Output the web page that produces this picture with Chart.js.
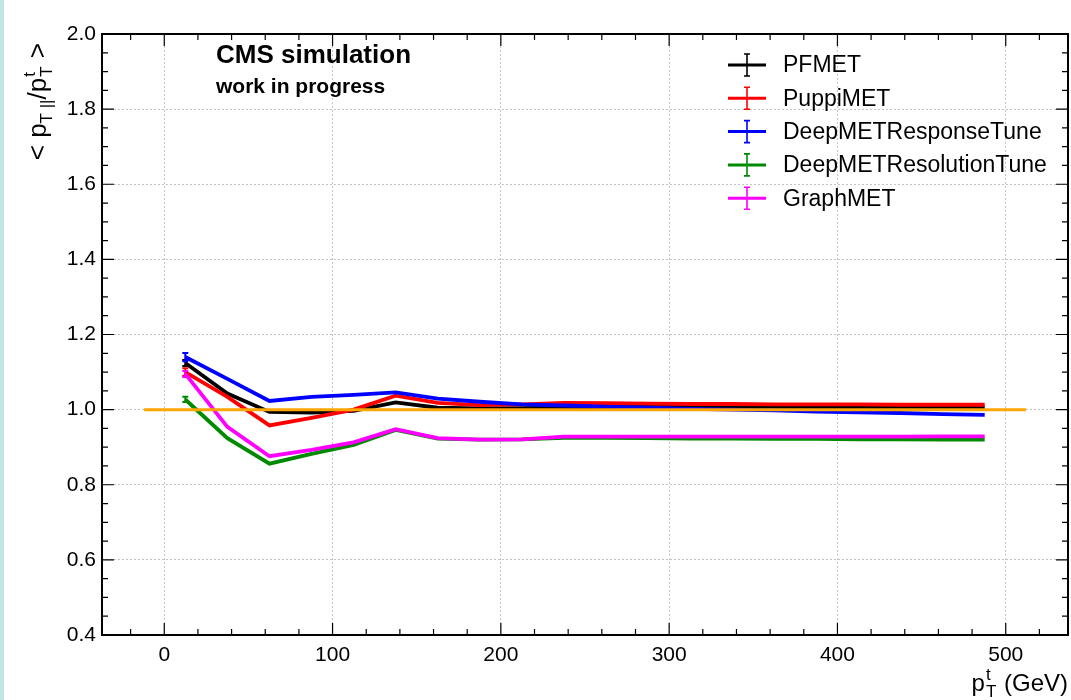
<!DOCTYPE html>
<html>
<head>
<meta charset="utf-8">
<script src="https://cdn.jsdelivr.net/npm/chart.js@4.4.1/dist/chart.umd.min.js"></script>
<style>
html, body { margin: 0; padding: 0; background: #fff; }
#wrap { position: relative; width: 1071px; height: 700px; overflow: hidden; }
#strip { position: absolute; left: 0; top: 0; width: 4px; height: 700px; background: #c2e6e6; }
canvas { position: absolute; left: 0; top: 0; }
</style>
</head>
<body>
<div id="wrap">
    <canvas id="response-chart" width="1071" height="700"></canvas>
    <div id="strip"></div>
</div>
<script>
// bin centres (GeV)
const ptBins = [12.5, 37.5, 62.5, 87.5, 112.5, 137.5, 162.5, 187.5, 212.5, 237.5,
                262.5, 287.5, 312.5, 337.5, 362.5, 387.5, 412.5, 437.5, 462.5, 487.5];

// response <p_T||/p_T^t> per bin
const pfMET          = [1.124, 1.043, 0.994, 0.992, 0.997, 1.019, 1.005, 1.003, 1.004, 1.006,
                        1.007, 1.007, 1.007, 1.007, 1.006, 1.006, 1.006, 1.006, 1.006, 1.006];
const puppiMET       = [1.100, 1.034, 0.958, 0.978, 1.000, 1.037, 1.018, 1.012, 1.014, 1.018,
                        1.017, 1.016, 1.015, 1.015, 1.014, 1.014, 1.014, 1.013, 1.013, 1.013];
const deepResponse   = [1.140, 1.082, 1.023, 1.034, 1.039, 1.046, 1.029, 1.021, 1.014, 1.011,
                        1.008, 1.005, 1.002, 1.000, 0.998, 0.995, 0.993, 0.991, 0.988, 0.986];
const deepResolution = [1.027, 0.924, 0.856, 0.882, 0.906, 0.946, 0.923, 0.920, 0.921, 0.925,
                        0.925, 0.924, 0.923, 0.923, 0.922, 0.922, 0.921, 0.921, 0.920, 0.920];
const graphMET       = [1.095, 0.954, 0.876, 0.893, 0.913, 0.948, 0.924, 0.920, 0.921, 0.928,
                        0.928, 0.928, 0.928, 0.928, 0.928, 0.928, 0.928, 0.928, 0.929, 0.929];

// statistical errors
const pfErr    = [0.008, 0.003, 0.001, 0.001, 0.001, 0.001, 0.001, 0.001, 0.001, 0.001,
                  0.001, 0.001, 0.001, 0.001, 0.001, 0.001, 0.001, 0.001, 0.001, 0.001];
const puppiErr = [0.010, 0.003, 0.001, 0.001, 0.001, 0.001, 0.001, 0.001, 0.001, 0.001,
                  0.001, 0.001, 0.001, 0.001, 0.001, 0.001, 0.001, 0.001, 0.001, 0.001];
const respErr  = [0.011, 0.003, 0.001, 0.001, 0.001, 0.001, 0.001, 0.001, 0.001, 0.001,
                  0.001, 0.001, 0.001, 0.001, 0.001, 0.001, 0.001, 0.001, 0.001, 0.001];
const resoErr  = [0.007, 0.003, 0.001, 0.001, 0.001, 0.001, 0.001, 0.001, 0.001, 0.001,
                  0.001, 0.001, 0.001, 0.001, 0.001, 0.001, 0.001, 0.001, 0.001, 0.001];
const graphErr = [0.008, 0.003, 0.001, 0.001, 0.001, 0.001, 0.001, 0.001, 0.001, 0.001,
                  0.001, 0.001, 0.001, 0.001, 0.001, 0.001, 0.001, 0.001, 0.001, 0.001];

const seriesNames  = ['PFMET', 'PuppiMET', 'DeepMETResponseTune', 'DeepMETResolutionTune', 'GraphMET'];
const seriesColors = ['#000000', '#ff0000', '#0000ff', '#008a00', '#ff00ff'];

// reference line at unity
const refLineX = [-12, 512];
const refLineY = [1.0, 1.0];

const xTicks = [0, 100, 200, 300, 400, 500];
const yTicks = [0.4, 0.6, 0.8, 1.0, 1.2, 1.4, 1.6, 1.8, 2.0];

const FONT = '"Liberation Sans", Arial, Helvetica, sans-serif';

function toPoints(xs, ys) {
    return xs.map((x, i) => ({ x: x, y: ys[i] }));
}

const seriesValues = [pfMET, puppiMET, deepResponse, deepResolution, graphMET];
const seriesErrors = [pfErr, puppiErr, respErr, resoErr, graphErr];

const datasets = seriesNames.map((name, i) => ({
    label: name,
    data: toPoints(ptBins, seriesValues[i]),
    errors: seriesErrors[i],
    borderColor: seriesColors[i],
    backgroundColor: seriesColors[i],
    borderWidth: 3.8,
    pointRadius: 0,
    tension: 0,
    fill: false,
    order: 5 - i
}));
datasets.push({
    label: 'unity',
    data: toPoints(refLineX, refLineY),
    borderColor: '#ffa500',
    borderWidth: 3,
    pointRadius: 0,
    fill: false,
    order: 0
});

// ROOT style frame with inward major/minor ticks
const framePlugin = {
    id: 'frame',
    afterDraw(chart) {
        const { ctx, chartArea: a, scales: { x, y } } = chart;
        ctx.save();
        ctx.strokeStyle = '#000';
        ctx.lineWidth = 1.2;
        ctx.beginPath();
        for (let v = -20; v <= 520; v += 20) {
            const px = x.getPixelForValue(v);
            if (px < a.left || px > a.right) continue;
            const len = v % 100 === 0 ? 12 : 6;
            ctx.moveTo(px, a.bottom); ctx.lineTo(px, a.bottom - len);
            ctx.moveTo(px, a.top); ctx.lineTo(px, a.top + len);
        }
        for (let k = 8; k <= 40; k++) {
            const v = k * 0.05;
            const py = y.getPixelForValue(v);
            const len = k % 4 === 0 ? 12 : 6;
            ctx.moveTo(a.left, py); ctx.lineTo(a.left + len, py);
            ctx.moveTo(a.right, py); ctx.lineTo(a.right - len, py);
        }
        ctx.stroke();
        ctx.lineWidth = 2;
        ctx.strokeRect(a.left, a.top, a.right - a.left, a.bottom - a.top);
        ctx.restore();
    }
};

// vertical error bars with small caps, drawn with their own dataset
const errorBarPlugin = {
    id: 'errorBars',
    afterDatasetDraw(chart, args) {
        const ds = chart.data.datasets[args.index];
        if (!ds.errors) return;
        const { ctx, scales: { y } } = chart;
        ctx.save();
        ctx.strokeStyle = ds.borderColor;
        ctx.lineWidth = 2;
        ds.data.forEach((p, i) => {
            const px = args.meta.data[i].x;
            const yHi = y.getPixelForValue(p.y + ds.errors[i]);
            const yLo = y.getPixelForValue(p.y - ds.errors[i]);
            if (yLo - yHi < 4) return;
            ctx.beginPath();
            ctx.moveTo(px, yHi); ctx.lineTo(px, yLo);
            ctx.moveTo(px - 3, yHi); ctx.lineTo(px + 3, yHi);
            ctx.moveTo(px - 3, yLo); ctx.lineTo(px + 3, yLo);
            ctx.stroke();
        });
        ctx.restore();
    }
};

// texts: CMS label, legend, axis titles
const labelsPlugin = {
    id: 'labels',
    afterDraw(chart) {
        const ctx = chart.ctx;
        ctx.save();
        ctx.fillStyle = '#000';
        ctx.textBaseline = 'alphabetic';
        ctx.textAlign = 'left';
        ctx.font = 'bold 26px ' + FONT;
        ctx.fillText('CMS simulation', 216, 63);
        ctx.font = 'bold 21px ' + FONT;
        ctx.fillText('work in progress', 216, 93);

        // legend
        ctx.font = '23px ' + FONT;
        ctx.textBaseline = 'middle';
        seriesNames.forEach((name, i) => {
            const cy = 65 + i * 33.3;
            ctx.strokeStyle = seriesColors[i];
            ctx.lineWidth = 3;
            ctx.beginPath();
            ctx.moveTo(728, cy); ctx.lineTo(766, cy);
            ctx.stroke();
            ctx.lineWidth = 1.6;
            ctx.beginPath();
            ctx.moveTo(747, cy - 11); ctx.lineTo(747, cy + 11);
            ctx.moveTo(744, cy - 11); ctx.lineTo(750, cy - 11);
            ctx.moveTo(744, cy + 11); ctx.lineTo(750, cy + 11);
            ctx.stroke();
            ctx.fillStyle = '#000';
            ctx.fillText(name, 783, cy + 1);
        });

        ctx.textBaseline = 'alphabetic';
        const big = '26px ' + FONT, small = '17px ' + FONT;

        // y title  < p_T|| / p_T^t >  (rotated, right aligned at top)
        const yParts = [
            { t: '< p', f: big, dy: 0 },
            { t: 'T ||', f: small, dy: 6 },
            { t: '/p', f: big, dy: 0 },
            { stack: ['t', 'T'], f: small },
            { t: ' >', f: big, dy: 0 }
        ];
        const widthOf = parts => parts.reduce((w, p) => {
            ctx.font = p.f;
            return w + (p.stack ? Math.max(...p.stack.map(s => ctx.measureText(s).width)) + 2 : ctx.measureText(p.t).width);
        }, 0);
        const drawParts = parts => {
            let xx = 0;
            parts.forEach(p => {
                ctx.font = p.f;
                if (p.stack) {
                    ctx.fillText(p.stack[0], xx + 1, -11);
                    ctx.fillText(p.stack[1], xx + 1, 6);
                    xx += Math.max(...p.stack.map(s => ctx.measureText(s).width)) + 2;
                } else {
                    ctx.fillText(p.t, xx, p.dy);
                    xx += ctx.measureText(p.t).width;
                }
            });
        };
        const yw = widthOf(yParts);
        ctx.translate(46, 43 + yw);
        ctx.rotate(-Math.PI / 2);
        drawParts(yParts);
        ctx.setTransform(1, 0, 0, 1, 0, 0);

        // x title  p_T^t (GeV)  right aligned
        const xParts = [
            { t: 'p', f: '24px ' + FONT, dy: 0 },
            { stack: ['t', 'T'], f: small },
            { t: ' (GeV)', f: '24px ' + FONT, dy: 0 }
        ];
        const xw = widthOf(xParts);
        ctx.translate(1068 - xw, 691);
        drawParts(xParts);
        ctx.restore();
    }
};

new Chart(document.getElementById('response-chart'), {
    type: 'line',
    data: { datasets: datasets },
    options: {
        responsive: false,
        animation: false,
        layout: { padding: { top: 34, right: 3, left: 0, bottom: 0 } },
        plugins: { legend: { display: false }, tooltip: { enabled: false } },
        scales: {
            x: {
                type: 'linear',
                min: -37,
                max: 537,
                afterBuildTicks: s => { s.ticks = xTicks.map(v => ({ value: v })); },
                afterFit: s => { s.height = 65; },
                ticks: { font: { size: 21, family: FONT }, color: '#000', padding: 8, maxRotation: 0, autoSkip: false },
                grid: { color: '#c4c4c4', lineWidth: 1, drawTicks: false },
                border: { display: false, dash: [2, 2] }
            },
            y: {
                type: 'linear',
                min: 0.4,
                max: 2.0,
                afterBuildTicks: s => { s.ticks = yTicks.map(v => ({ value: v })); },
                afterFit: s => { s.width = 102; },
                ticks: { font: { size: 21, family: FONT }, color: '#000', padding: 6, callback: v => v.toFixed(1) },
                grid: { color: '#c4c4c4', lineWidth: 1, drawTicks: false },
                border: { display: false, dash: [2, 2] }
            }
        }
    },
    plugins: [errorBarPlugin, framePlugin, labelsPlugin]
});
</script>
</body>
</html>
